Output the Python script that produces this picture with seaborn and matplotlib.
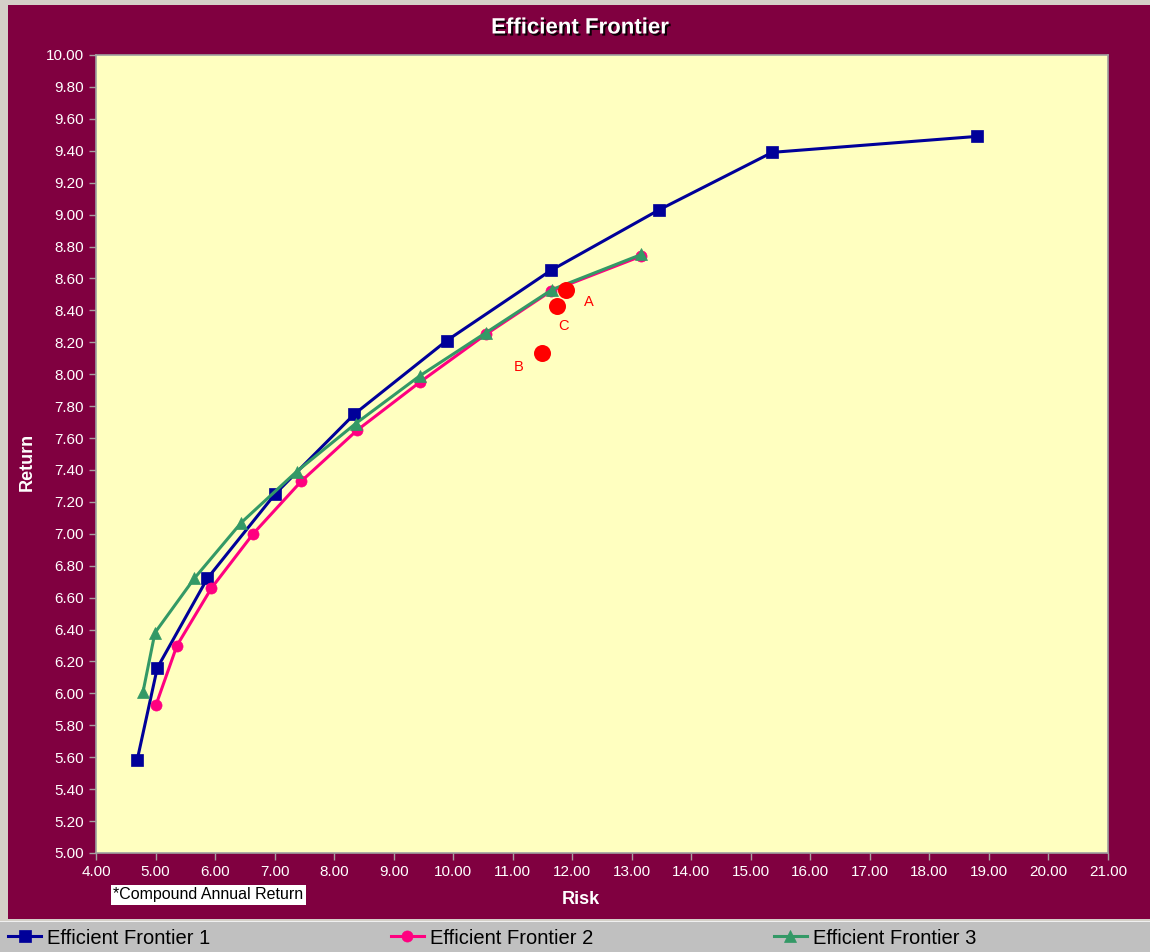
import matplotlib
matplotlib.use("Agg")
import matplotlib.pyplot as plt
import matplotlib.patches as mpatches
import matplotlib.patheffects as pe
from matplotlib.ticker import FormatStrFormatter, FixedLocator
import numpy as np
import pandas as pd
import seaborn as sns

# ---------------- data ----------------
series_names = ["Efficient Frontier 1", "Efficient Frontier 2", "Efficient Frontier 3"]

risk_1 = [4.69, 5.03, 5.87, 7.01, 8.34, 9.89, 11.64, 13.46, 15.36, 18.80]
return_1 = [5.58, 6.16, 6.72, 7.25, 7.75, 8.21, 8.65, 9.03, 9.39, 9.49]

risk_2 = [5.01, 5.36, 5.94, 6.64, 7.45, 8.39, 9.44, 10.55, 11.64, 13.16]
return_2 = [5.93, 6.30, 6.66, 7.00, 7.33, 7.65, 7.95, 8.25, 8.52, 8.74]

risk_3 = [4.79, 4.99, 5.65, 6.44, 7.37, 8.36, 9.44, 10.55, 11.66, 13.16]
return_3 = [6.01, 6.38, 6.72, 7.07, 7.39, 7.69, 7.99, 8.26, 8.53, 8.75]

point_labels = ["A", "C", "B"]
point_risk = [11.90, 11.74, 11.49]
point_return = [8.53, 8.43, 8.13]

x_ticks = list(range(4, 22))
y_ticks = [round(5.0 + 0.2 * i, 2) for i in range(26)]

# ---------------- styling ----------------
MAROON = "#800040"
YELLOW = "#FFFFC0"
FRAME = "#d4d0c8"
BAND = "#c0c0c0"
colors = ["#000099", "#FF0080", "#339966"]
markers = ["s", "o", "^"]

W, H = 1150, 952
fig = plt.figure(figsize=(W / 100, H / 100), dpi=100)
fig.patch.set_facecolor(FRAME)
FONT = ["Liberation Sans", "DejaVu Sans"]
plt.rcParams["font.family"] = FONT

def fx(px):
    return px / W

def fy(py):
    return 1 - py / H

# maroon panel
fig.patches.append(mpatches.Rectangle((fx(8), fy(919)), fx(1150 - 8), (919 - 5) / H,
                                      transform=fig.transFigure, facecolor=MAROON,
                                      edgecolor="none", zorder=-10))
# legend band
fig.patches.append(mpatches.Rectangle((fx(0), 0), 1, (952 - 921) / H,
                                      transform=fig.transFigure, facecolor=BAND,
                                      edgecolor="none", zorder=-10))
fig.patches.append(mpatches.Rectangle((fx(0), fy(922)), 1, 1.5 / H,
                                      transform=fig.transFigure, facecolor="#f0f0f0",
                                      edgecolor="none", zorder=-10))

ax = fig.add_axes([fx(96), fy(853), fx(1108 - 96), (853 - 55) / H])
ax.set_zorder(1)
ax.set_facecolor(YELLOW)

df = pd.concat([
    pd.DataFrame({"risk": risk_1, "ret": return_1, "series": series_names[0]}),
    pd.DataFrame({"risk": risk_2, "ret": return_2, "series": series_names[1]}),
    pd.DataFrame({"risk": risk_3, "ret": return_3, "series": series_names[2]}),
], ignore_index=True)

sizes = {series_names[0]: 9, series_names[1]: 8, series_names[2]: 8}
for name, col, mk in zip(series_names, colors, markers):
    sub = df[df["series"] == name]
    sns.lineplot(data=sub, x="risk", y="ret", ax=ax, color=col, marker=mk,
                 markersize=sizes[name], markeredgecolor=col, markeredgewidth=0.5,
                 linewidth=2.2, sort=False, label=name, estimator=None)

pts = pd.DataFrame({"risk": point_risk, "ret": point_return, "lab": point_labels})
sns.scatterplot(data=pts, x="risk", y="ret", ax=ax, color="#FF0000", s=150,
                edgecolor="#FF0000", linewidth=0, zorder=5, legend=False)
offsets = {"A": (23, -12), "C": (7, -20), "B": (-23, -14)}
for lab, xr, yr in zip(point_labels, point_risk, point_return):
    ax.annotate(lab, (xr, yr), xytext=offsets[lab], textcoords="offset pixels",
                ha="center", va="center", color="#FF0000", fontsize=10.5)

ax.set_xlim(4, 21)
ax.set_ylim(5, 10)
ax.xaxis.set_major_locator(FixedLocator(x_ticks))
ax.yaxis.set_major_locator(FixedLocator(y_ticks))
ax.xaxis.set_major_formatter(FormatStrFormatter("%.2f"))
ax.yaxis.set_major_formatter(FormatStrFormatter("%.2f"))
ax.tick_params(axis="both", colors="#a8a0a0", labelcolor="white", length=5,
               width=1, labelsize=11, direction="out", pad=4)
for s in ax.spines.values():
    s.set_color("#a0a0a0")
    s.set_linewidth(1.2)
ax.grid(False)
ax.set_xlabel("")
ax.set_ylabel("")

# texts
fig.text(fx(580), fy(28), "Efficient Frontier", ha="center", va="center",
         color="white", fontsize=16, fontweight="bold",
         path_effects=[pe.SimplePatchShadow(offset=(1.5, -1.5), shadow_rgbFace="black", alpha=0.9),
                       pe.Normal()])
fig.text(fx(581), fy(900), "Risk", ha="center", va="center", color="white",
         fontsize=13, fontweight="bold")
fig.text(fx(27), fy(462), "Return", ha="center", va="center", color="white",
         fontsize=13, fontweight="bold", rotation=90)
fig.text(fx(113), fy(895), "*Compound Annual Return", ha="left", va="center",
         color="black", fontsize=11.5,
         bbox=dict(boxstyle="square,pad=0.15", facecolor="white", edgecolor="none"))

sns.move_legend(ax, "center left", bbox_to_anchor=(fx(8), fy(938)),
                bbox_transform=fig.transFigure, ncol=3, frameon=False, title=None,
                fontsize=14.5, handlelength=1.65, handletextpad=0.3,
                columnspacing=8.95, borderaxespad=0, borderpad=0)

fig.savefig("out.png", dpi=100, facecolor=fig.get_facecolor())
